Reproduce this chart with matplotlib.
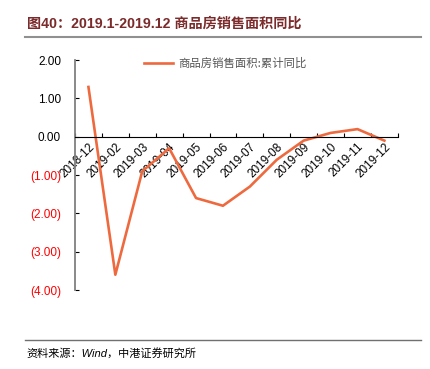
import numpy as np
import matplotlib
matplotlib.use('Agg')
import matplotlib.pyplot as plt

plt.rcParams['font.family'] = ['Liberation Sans', 'Noto Sans CJK SC', 'DejaVu Sans']

# 数据
bulan = ['2018-12', '2019-02', '2019-03', '2019-04', '2019-05', '2019-06',
         '2019-07', '2019-08', '2019-09', '2019-10', '2019-11', '2019-12']
nilai = [1.3, -3.6, -0.9, -0.3, -1.6, -1.8, -1.3, -0.6, -0.1, 0.1, 0.2, -0.1]
y_ticks = [2, 1, 0, -1, -2, -3, -4]

fig = plt.figure(figsize=(4.31, 3.69), dpi=100)
ax = fig.add_axes([0.174, 0.214, 0.749, 0.623])

x = np.arange(len(bulan))
ax.plot(x, nilai, color='#EE6A3E', lw=1.9, label='商品房销售面积:累计同比')

ax.set_xlim(-0.5, len(bulan) - 0.5)
ax.set_ylim(-4, 2)

# sumbu x di y=0
ax.spines['bottom'].set_position(('data', 0))
ax.spines['bottom'].set_color('black')
ax.spines['bottom'].set_linewidth(0.8)
ax.spines['left'].set_color('#808080')
ax.spines['left'].set_linewidth(1.3)
ax.spines['top'].set_visible(False)
ax.spines['right'].set_visible(False)

ax.set_xticks(x)
ax.set_xticklabels(bulan, rotation=45, ha='right', va='top', rotation_mode='anchor', fontsize=8.5)
ax.set_xticks(np.arange(-0.5, len(bulan)), minor=True)
ax.tick_params(axis='x', which='major', length=0, pad=3)
ax.tick_params(axis='x', which='minor', direction='in', length=3, width=0.8)

ax.set_yticks(y_ticks)
labels = []
for v in y_ticks:
    labels.append(f'{v:.2f}' if v >= 0 else f'({abs(v):.2f})')
ax.set_yticklabels(labels, fontsize=8.5)
for lbl, v in zip(ax.get_yticklabels(), y_ticks):
    lbl.set_color('red' if v < 0 else 'black')
ax.tick_params(axis='y', direction='in', length=3, width=0.8, pad=10)

leg = ax.legend(loc='upper center', bbox_to_anchor=(0.465, 1.055), frameon=False,
                prop={'family': ['Noto Sans CJK SC'], 'size': 8.2}, handlelength=2.6,
                handletextpad=0.4)
for t in leg.get_texts():
    t.set_color('#555555')

# judul dan garis
fig.text(0.062, 0.935, '图40：2019.1-2019.12 商品房销售面积同比', fontsize=10.2, fontweight='bold',
         color='#7B2B2B', ha='left', va='center',
         family=['Liberation Sans', 'Noto Sans CJK SC'])
fig.add_artist(plt.Line2D([0.058, 0.977], [0.9, 0.9], color='#909090', lw=1.5))
fig.add_artist(plt.Line2D([0.058, 0.977], [0.079, 0.079], color='#707070', lw=1.0))
fig.text(0.062, 0.043, '资料来源：Wind，中港证券研究所', fontsize=8, style='italic',
         ha='left', va='center', family=['Liberation Sans', 'Noto Sans CJK SC'])

fig.savefig('out.png', dpi=100)
